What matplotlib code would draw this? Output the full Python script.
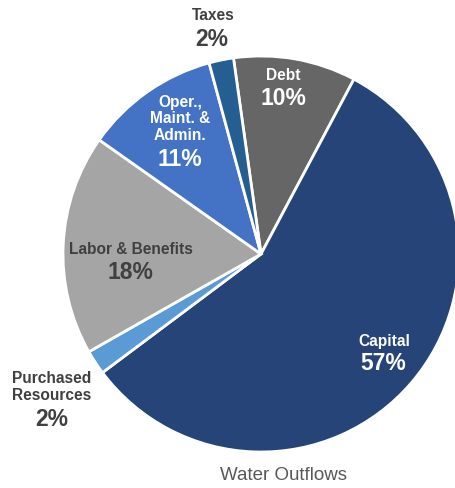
import matplotlib
matplotlib.use("Agg")
import matplotlib.pyplot as plt

categories = ["Debt", "Capital", "Purchased\nResources", "Labor & Benefits", "Oper.,\nMaint. &\nAdmin.", "Taxes"]
values = [10, 57, 2, 18, 11, 2]
colors = ["#666666", "#264478", "#5B9BD5", "#A5A5A5", "#4472C4", "#255E91"]
text_colors = ["white", "white", "#404040", "#404040", "white", "#404040"]
# label positions in image pixels (name center, percent center)
name_pos = [(283, 76), (384, 342), (52, 387), (131, 250), (180, 119), (213, 16)]
pct_pos = [(283, 99), (383, 364), (52, 420), (130, 273), (180, 160), (212, 40)]

W, H = 456, 489
fig = plt.figure(figsize=(W / 100, H / 100), dpi=100)
ax = fig.add_axes([0, 0, 1, 1])
ax.pie(values, colors=colors, startangle=98, counterclock=False,
       center=(261, H - 255), radius=198,
       wedgeprops=dict(edgecolor="white", linewidth=2))
ax.set_xlim(0, W)
ax.set_ylim(0, H)
ax.set_aspect("equal", adjustable="box")
ax.axis("off")

font = "Liberation Sans"
for cat, v, tc, (nx, ny), (px, py) in zip(categories, values, text_colors, name_pos, pct_pos):
    ax.text(nx, H - ny, cat, ha="center", va="center", fontsize=11.2,
            fontweight="bold", color=tc, family=font, linespacing=1.15)
    ax.text(px, H - py, f"{v}%", ha="center", va="center", fontsize=16.5,
            fontweight="bold", color=tc, family=font)

ax.text(284, H - 476, "Water Outflows", ha="center", va="center", fontsize=13.5,
        color="#595959", family=font)

fig.savefig("out.png", dpi=100)
